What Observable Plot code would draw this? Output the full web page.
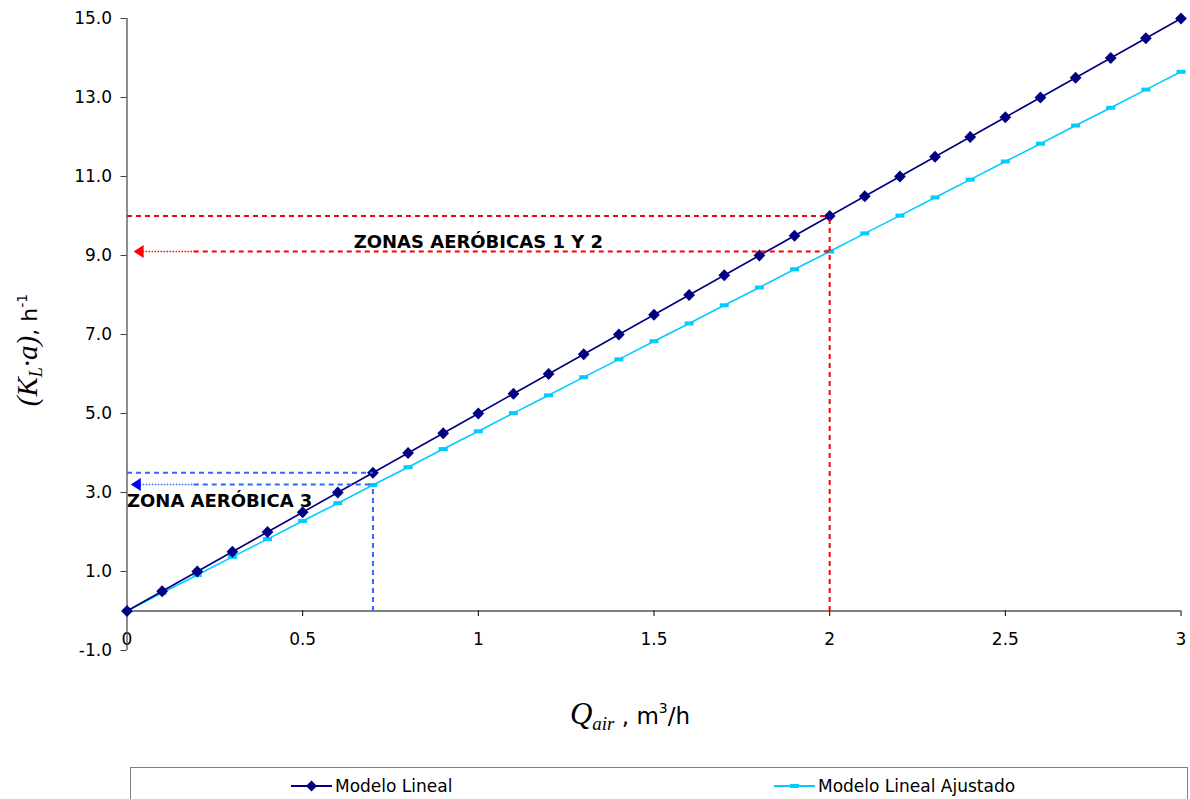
<!DOCTYPE html>
<html><head><meta charset="utf-8">
<script src="https://cdn.jsdelivr.net/npm/d3@7"></script>
<script src="https://cdn.jsdelivr.net/npm/@observablehq/plot@0.6"></script>
<style>
body{margin:0;background:#fff;}
#chart{position:absolute;left:0;top:0;}
#legend{position:absolute;left:130px;top:767px;width:1058px;height:40px;border:1px solid #808080;border-bottom:none;box-sizing:border-box;font-family:"DejaVu Sans",Verdana,sans-serif;font-size:17px;color:#000;}
.item{position:absolute;top:7px;height:22px;display:flex;align-items:center;white-space:nowrap;}
.item svg{margin-right:3px;}
</style></head><body>
<div id="chart"></div>
<div id="legend"></div>
<script>
// ---- data ----
const qAir = [0,0.1,0.2,0.3,0.4,0.5,0.6,0.7,0.8,0.9,1.0,1.1,1.2,1.3,1.4,1.5,1.6,1.7,1.8,1.9,2.0,2.1,2.2,2.3,2.4,2.5,2.6,2.7,2.8,2.9,3.0];
const klaLineal = [0,0.5,1.0,1.5,2.0,2.5,3.0,3.5,4.0,4.5,5.0,5.5,6.0,6.5,7.0,7.5,8.0,8.5,9.0,9.5,10.0,10.5,11.0,11.5,12.0,12.5,13.0,13.5,14.0,14.5,15.0];
const klaAjustado = [0,0.46,0.91,1.37,1.82,2.28,2.73,3.19,3.64,4.10,4.55,5.01,5.46,5.92,6.37,6.83,7.28,7.74,8.19,8.65,9.10,9.56,10.01,10.47,10.92,11.38,11.83,12.29,12.74,13.20,13.65];
const seriesNames = ["Modelo Lineal","Modelo Lineal Ajustado"];
const xTicks = [0,0.5,1,1.5,2,2.5,3];
const yTicks = [-1,1,3,5,7,9,11,13,15];
// zone read-offs: operating airflow, KLa (lineal), KLa (ajustado)
const zoneNames = ["ZONAS AERÓBICAS 1 Y 2","ZONA AERÓBICA 3"];
const zoneQ = [2.0, 0.7];
const zoneKla = [10.0, 3.5];
const zoneKlaAdj = [9.1, 3.2];
// arrow ends near the y axis (x in m3/h)
const zoneArrowQ = [0.033, 0.025];
const zoneDotEndQ = [0.19, 0.19];
// label anchor positions (data units)
const zoneLabelQ = [1.0, 0];
const zoneLabelKla = [9.34, 2.78];

// ---- styles ----
const NAVY = "#000080", CYAN = "#00CCFF";
const zoneColor = ["#FF0000", "#3366FF"];
const zoneArrowColor = ["#FF0000", "#0000FF"];

const lineal = qAir.map((q,i)=>({q, k: klaLineal[i]}));
const ajust = qAir.map((q,i)=>({q, k: klaAjustado[i]}));
const zones = zoneNames.map((name,i)=>({name, i, q: zoneQ[i], k: zoneKla[i], ka: zoneKlaAdj[i], qa: zoneArrowQ[i], qd: zoneDotEndQ[i], lx: zoneLabelQ[i], ly: zoneLabelKla[i], c: zoneColor[i], ca: zoneArrowColor[i]}));

const rectSym = {draw(ctx){ ctx.rect(-4.5,-2,9,4); }};
const triLeft = {draw(ctx){ ctx.moveTo(-5,0); ctx.lineTo(5,-6.5); ctx.lineTo(5,6.5); ctx.closePath(); }};

const dash = {strokeWidth: 2, strokeDasharray: "5,4"};
const plot = Plot.plot({
  width: 1190, height: 760,
  marginLeft: 126.5, marginRight: 9.5, marginTop: 18, marginBottom: 110,
  x: {domain: [0,3], axis: null},
  y: {domain: [-1,15], axis: null},
  style: {fontFamily: "'DejaVu Sans', Verdana, sans-serif", fontSize: "17px", color: "#000", background: "#fff"},
  marks: [
    Plot.ruleY([0], {stroke: "#808080", strokeWidth: 2}),
    Plot.ruleX(xTicks, {x: d=>d, y1: 0, y2: -0.14, stroke: "#000", strokeWidth: 1}),
    Plot.text(xTicks, {x: d=>d, y: 0, dy: 29, text: d=>String(d), fontSize: 17, fill: "#000"}),
    Plot.axisY({ticks: yTicks, tickFormat: d=>d.toFixed(1), tickSize: 6, tickPadding: 9, label: null, fontSize: 17, stroke: "#404040"}),
    Plot.ruleX([0], {y1: -1, y2: 15, stroke: "#404040", strokeWidth: 1.2}),
    Plot.line(ajust, {x: "q", y: "k", stroke: CYAN, strokeWidth: 1.6}),
    Plot.dot(ajust, {x: "q", y: "k", symbol: rectSym, fill: CYAN}),
    Plot.line(lineal, {x: "q", y: "k", stroke: NAVY, strokeWidth: 1.6}),
    Plot.dot(lineal, {x: "q", y: "k", symbol: "diamond2", r: 5.3, fill: NAVY}),
    // guides
    Plot.link(zones, {x1: 0, y1: "k", x2: "q", y2: "k", stroke: "c", ...dash}),
    Plot.link(zones, {x1: "qd", y1: "ka", x2: "q", y2: "ka", stroke: "c", ...dash}),
    Plot.link(zones, {x1: "qa", y1: "ka", x2: "qd", y2: "ka", stroke: "c", strokeWidth: 1.5, strokeDasharray: "1.5,1.5", dx: 4}),
    Plot.link(zones, {x1: "q", y1: 0, x2: "q", y2: d => d.i === 0 ? d.k : d.ka, stroke: "c", ...dash}),
    Plot.dot(zones, {x: "qa", y: "ka", symbol: triLeft, fill: "ca"}),
    Plot.text(zones.filter(d=>d.i===0), {x: "lx", y: "ly", text: "name", fontWeight: "bold", fontSize: 18, fill: "#000", textAnchor: "middle"}),
    Plot.text(zones.filter(d=>d.i===1), {x: "lx", y: "ly", text: "name", fontWeight: "bold", fontSize: 18, fill: "#000", textAnchor: "start"})
  ]
});
document.getElementById("chart").appendChild(plot);

const svg = d3.select(plot);
const serif = "'Liberation Serif','Times New Roman',serif", sans = "'DejaVu Sans',sans-serif";
// x label
const xl = svg.append("text").attr("x", 630).attr("y", 724).attr("text-anchor", "middle").attr("fill", "#000");
xl.append("tspan").attr("font-family", serif).attr("font-style", "italic").attr("font-size", 31).text("Q");
xl.append("tspan").attr("font-family", serif).attr("font-style", "italic").attr("font-size", 19).attr("dy", 6).text("air");
xl.append("tspan").attr("font-family", sans).attr("font-size", 23).attr("dy", -6).text(" , m");
xl.append("tspan").attr("font-family", sans).attr("font-size", 14).attr("dy", -11).text("3");
xl.append("tspan").attr("font-family", sans).attr("font-size", 23).attr("dy", 11).text("/h");
// y label
const yl = svg.append("text").attr("transform", "translate(37,350) rotate(-90)").attr("text-anchor", "middle").attr("fill", "#000");
yl.append("tspan").attr("font-family", serif).attr("font-style", "italic").attr("font-size", 29).text("(K");
yl.append("tspan").attr("font-family", serif).attr("font-style", "italic").attr("font-size", 18).attr("dy", 5).text("L");
yl.append("tspan").attr("font-family", serif).attr("font-style", "italic").attr("font-size", 29).attr("dy", -5).text("·a)");
yl.append("tspan").attr("font-family", sans).attr("font-size", 22).text(", h");
yl.append("tspan").attr("font-family", sans).attr("font-size", 14).attr("dy", -10).text("-1");

// legend
const legend = d3.select("#legend");
const items = [
  {name: seriesNames[0], color: NAVY, sym: "diamond", left: 160},
  {name: seriesNames[1], color: CYAN, sym: "rect", left: 643}
];
items.forEach(it => {
  const div = legend.append("div").attr("class", "item").style("left", it.left + "px");
  const s = div.append("svg").attr("width", 41).attr("height", 14);
  s.append("line").attr("x1", 0).attr("x2", 41).attr("y1", 7).attr("y2", 7).attr("stroke", it.color).attr("stroke-width", 2);
  if (it.sym === "diamond") s.append("path").attr("d", "M20.5,1.5L26,7L20.5,12.5L15,7Z").attr("fill", it.color);
  else s.append("rect").attr("x", 16).attr("y", 5).attr("width", 9).attr("height", 4).attr("fill", it.color);
  div.append("span").text(it.name);
});
</script>
</body></html>
